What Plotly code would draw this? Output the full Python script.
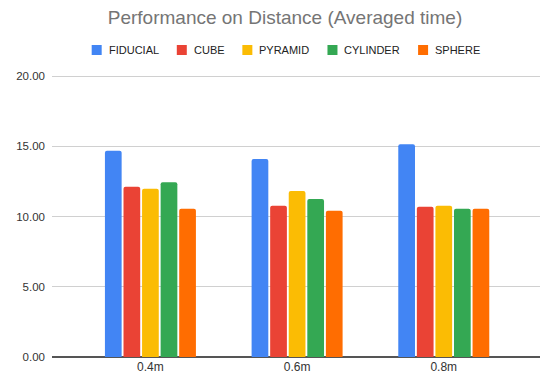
import plotly.graph_objects as go

# Averaged completion time per object at each distance
distances = ["0.4m", "0.6m", "0.8m"]
fiducial = [14.68, 14.09, 15.14]
cube = [12.12, 10.77, 10.70]
pyramid = [11.98, 11.81, 10.77]
cylinder = [12.43, 11.25, 10.56]
sphere = [10.56, 10.41, 10.56]

series_names = ["FIDUCIAL", "CUBE", "PYRAMID", "CYLINDER", "SPHERE"]
series_values = [fiducial, cube, pyramid, cylinder, sphere]
series_colors = ["#4285F4", "#EA4335", "#FBBC04", "#34A853", "#FF6D01"]

y_ticks = [0, 5, 10, 15, 20]
y_tick_text = ["0.00", "5.00", "10.00", "15.00", "20.00"]

W, H = 540, 376
M_L, M_R, M_T, M_B = 52, 0, 69, 19
PLOT_W = W - M_L - M_R
PLOT_H = H - M_T - M_B

fig = go.Figure()
for name, values, color in zip(series_names, series_values, series_colors):
    fig.add_trace(go.Bar(
        x=distances, y=values, name=name,
        marker=dict(color=color, line=dict(width=0)),
    ))

# Compact legend row (swatch + label), laid out from approximate
# Arial glyph widths so the row can be centred under the title.
ARIAL = {"A": .667, "B": .667, "C": .722, "D": .722, "E": .667, "F": .611,
         "H": .722, "I": .278, "L": .556, "M": .833, "N": .722, "O": .778,
         "P": .667, "R": .722, "S": .667, "U": .722, "Y": .667}
LEG_FONT = 11
SWATCH, SW_GAP, ITEM_GAP = 10, 5, 20
text_w = [sum(ARIAL.get(c, .6) for c in n) * LEG_FONT for n in series_names]
row_w = sum(SWATCH + SW_GAP + t for t in text_w) + ITEM_GAP * (len(text_w) - 1)
leg_center_px, leg_y_px = 285, 50


def px_to_paper_x(px):
    return (px - M_L) / PLOT_W


def px_to_paper_y(py):
    return (H - M_B - py) / PLOT_H


shapes, annotations = [], []
cursor = leg_center_px - row_w / 2
for name, color, tw in zip(series_names, series_colors, text_w):
    shapes.append(dict(
        type="rect", xref="paper", yref="paper",
        x0=px_to_paper_x(cursor), x1=px_to_paper_x(cursor + SWATCH),
        y0=px_to_paper_y(leg_y_px + SWATCH / 2), y1=px_to_paper_y(leg_y_px - SWATCH / 2),
        fillcolor=color, line=dict(width=0),
    ))
    annotations.append(dict(
        text=name, xref="paper", yref="paper",
        x=px_to_paper_x(cursor + SWATCH + SW_GAP), y=px_to_paper_y(leg_y_px),
        xanchor="left", yanchor="middle", showarrow=False,
        font=dict(size=LEG_FONT, color="#222222"),
    ))
    cursor += SWATCH + SW_GAP + tw + ITEM_GAP

fig.update_layout(
    width=W, height=H,
    margin=dict(l=M_L, r=M_R, t=M_T, b=M_B, autoexpand=False),
    paper_bgcolor="white", plot_bgcolor="white",
    font=dict(family="Liberation Sans, Arial, sans-serif", color="#444444"),
    barmode="group", bargap=0.367, bargroupgap=0.1, barcornerradius=2,
    title=dict(
        text="Performance on Distance (Averaged time)",
        font=dict(size=19, color="#757575"),
        x=leg_center_px / W, xref="container", xanchor="center",
        y=1 - 17 / H, yref="container", yanchor="middle",
    ),
    showlegend=False,
    shapes=shapes,
    annotations=annotations,
)

fig.update_xaxes(
    range=[-0.671, 2.656], automargin=False,
    showgrid=False, zeroline=False, showline=False,
    ticks="", tickfont=dict(size=12, color="#333333"),
    ticklabelstandoff=1,
)
fig.update_yaxes(
    range=[0, 20.5], automargin=False,
    tickvals=y_ticks, ticktext=y_tick_text,
    showgrid=True, gridcolor="#D0D0D0", gridwidth=1,
    zeroline=True, zerolinecolor="#555555", zerolinewidth=1.5,
    ticks="", tickfont=dict(size=11.5, color="#333333"),
    ticklabelstandoff=6,
)

fig.write_html("out.html")
